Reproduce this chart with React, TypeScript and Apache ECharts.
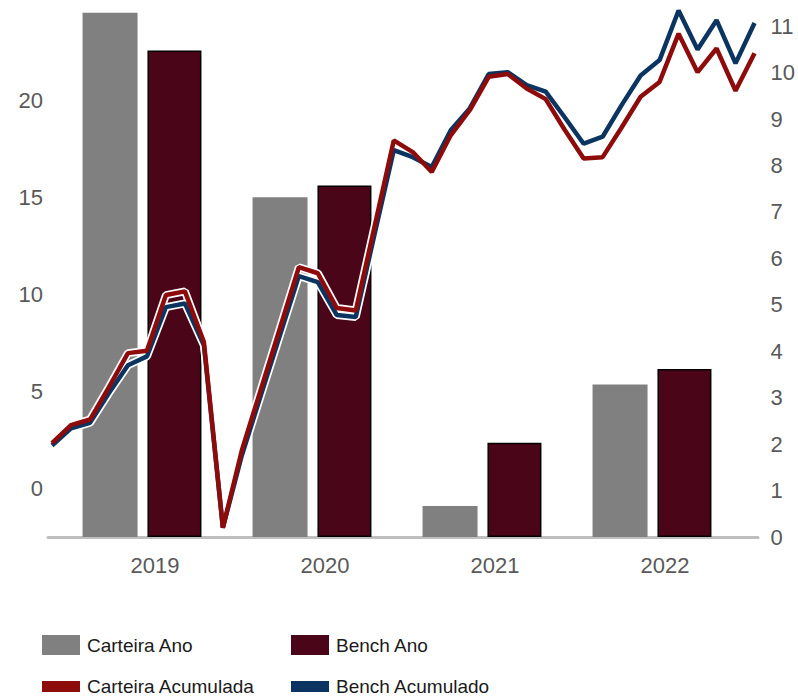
import React, { useEffect, useRef } from "react";
import * as echarts from "echarts";

const YEARS = ["2019", "2020", "2021", "2022"];
const CARTEIRA_ANO = [24.5, 15.0, -0.9, 5.35];
const BENCH_ANO = [22.55, 15.6, 2.35, 6.15];

const PERIODS = [
  "P01", "P02", "P03", "P04", "P05", "P06", "P07", "P08", "P09", "P10",
  "P11", "P12", "P13", "P14", "P15", "P16", "P17", "P18", "P19", "P20",
  "P21", "P22", "P23", "P24", "P25", "P26", "P27", "P28", "P29", "P30",
  "P31", "P32", "P33", "P34", "P35", "P36", "P37", "P38",
];
const CARTEIRA_ACUM = [
  2.02, 2.41, 2.53, 3.23, 3.96, 4.01, 5.21, 5.29, 4.2, 0.2,
  1.87, 3.18, 4.49, 5.81, 5.68, 4.93, 4.88, 6.71, 8.54, 8.29,
  7.86, 8.65, 9.19, 9.91, 9.97, 9.66, 9.43, 8.77, 8.15, 8.18,
  8.82, 9.48, 9.8, 10.84, 10.01, 10.52, 9.61, 10.42,
];
const BENCH_ACUM = [
  1.97, 2.34, 2.46, 3.1, 3.7, 3.89, 4.95, 5.03, 4.13, 0.2,
  1.76, 3.05, 4.34, 5.62, 5.49, 4.78, 4.74, 6.54, 8.33, 8.18,
  7.97, 8.76, 9.23, 9.97, 10.01, 9.73, 9.59, 9.04, 8.47, 8.62,
  9.3, 9.94, 10.27, 11.34, 10.5, 11.13, 10.2, 11.07,
];

const LEFT_MIN = -2.5;
const LEFT_MAX = 25;
const LEFT_LABELS = [0, 5, 10, 15, 20];
const RIGHT_MIN = 0;
const RIGHT_MAX = 11.5;
const RIGHT_LABELS = [0, 1, 2, 3, 4, 5, 6, 7, 8, 9, 10, 11];

const GRAY = "#808080";
const MAROON = "#4A0519";
const RED = "#8E0B0B";
const BLUE = "#0B3560";
const FONT = "'Liberation Sans', Arial, sans-serif";

export default function App() {
  const ref = useRef<HTMLDivElement>(null);

  useEffect(() => {
    if (!ref.current) return;
    const chart = echarts.init(ref.current, undefined, { renderer: "svg" });
    const TOP = 3;
    const H = 534;
    const axisText = { color: "#595959", fontFamily: FONT, fontSize: 22 };
    const lineIcon = "path://M0 0H38V11H0Z";
    const legendAt = (left: number, top: number, name: string, icon: string) => ({
      orient: "horizontal",
      left,
      top,
      padding: 0,
      itemWidth: 38,
      itemHeight: 20,
      textStyle: { fontFamily: FONT, fontSize: 19, color: "#1a1a1a", padding: [0, 0, 0, 2] },
      data: [{ name, icon, itemStyle: { borderWidth: 0 } }],
    });

    chart.setOption({
      animation: false,
      backgroundColor: "#ffffff",
      grid: [
        { left: 48, top: TOP, width: 710, height: H },
        { left: 57, top: TOP, width: 680, height: H },
        { left: 52, top: TOP, width: 703, height: H },
      ],
      xAxis: [
        {
          gridIndex: 0,
          type: "category",
          data: YEARS,
          axisLine: { show: true, onZero: false, lineStyle: { color: "#BFBFBF", width: 3 } },
          axisTick: { show: false },
          axisLabel: { show: false },
          splitLine: { show: false },
        },
        {
          gridIndex: 1,
          type: "category",
          data: YEARS,
          axisLine: { show: false, onZero: false },
          axisTick: { show: false },
          axisLabel: { ...axisText, margin: 17, padding: [0, 0, 0, 26] },
        },
        {
          gridIndex: 2,
          type: "category",
          data: PERIODS,
          boundaryGap: false,
          show: false,
          axisLine: { onZero: false },
        },
      ],
      yAxis: [
        {
          gridIndex: 0,
          type: "value",
          min: LEFT_MIN,
          max: LEFT_MAX,
          interval: 2.5,
          axisLine: { show: false },
          axisTick: { show: false },
          splitLine: { show: false },
          axisLabel: {
            ...axisText,
            margin: 5,
            formatter: (v: number) => (LEFT_LABELS.includes(v) ? String(v) : ""),
          },
        },
        {
          gridIndex: 1,
          type: "value",
          min: 0,
          max: LEFT_MAX - LEFT_MIN,
          show: false,
        },
        {
          gridIndex: 2,
          type: "value",
          position: "right",
          min: RIGHT_MIN,
          max: RIGHT_MAX,
          interval: 1,
          axisLine: { show: false },
          axisTick: { show: false },
          splitLine: { show: false },
          axisLabel: {
            ...axisText,
            margin: 16,
            formatter: (v: number) => (RIGHT_LABELS.includes(v) ? String(v) : ""),
          },
        },
      ],
      legend: [
        legendAt(42, 635, "Carteira Ano", "rect"),
        legendAt(291, 635, "Bench Ano", "rect"),
        legendAt(42, 677, "Carteira Acumulada", lineIcon),
        legendAt(291, 677, "Bench Acumulado", lineIcon),
      ],
      series: [
        {
          name: "Carteira Ano",
          type: "bar",
          xAxisIndex: 1,
          yAxisIndex: 1,
          barWidth: 55,
          barGap: "18%",
          itemStyle: { color: GRAY },
          data: CARTEIRA_ANO.map((v) => v - LEFT_MIN),
        },
        {
          name: "Bench Ano",
          type: "bar",
          xAxisIndex: 1,
          yAxisIndex: 1,
          barWidth: 54,
          itemStyle: { color: MAROON, borderColor: "#000000", borderWidth: 1.5 },
          data: BENCH_ANO.map((v) => v - LEFT_MIN),
        },
        {
          name: "halo-bench",
          type: "line",
          xAxisIndex: 2,
          yAxisIndex: 2,
          symbol: "none",
          silent: true,
          lineStyle: { color: "#ffffff", width: 8 },
          data: BENCH_ACUM,
        },
        {
          name: "halo-carteira",
          type: "line",
          xAxisIndex: 2,
          yAxisIndex: 2,
          symbol: "none",
          silent: true,
          lineStyle: { color: "#ffffff", width: 8 },
          data: CARTEIRA_ACUM,
        },
        {
          name: "Bench Acumulado",
          type: "line",
          xAxisIndex: 2,
          yAxisIndex: 2,
          symbol: "none",
          itemStyle: { color: BLUE },
          lineStyle: { color: BLUE, width: 4.5 },
          data: BENCH_ACUM,
        },
        {
          name: "Carteira Acumulada",
          type: "line",
          xAxisIndex: 2,
          yAxisIndex: 2,
          symbol: "none",
          itemStyle: { color: RED },
          lineStyle: { color: RED, width: 4.5 },
          data: CARTEIRA_ACUM,
        },
      ],
    });

    return () => chart.dispose();
  }, []);

  return (
    <div
      ref={ref}
      style={{ width: 798, height: 699, position: "absolute", left: 0, top: 0 }}
    />
  );
}
